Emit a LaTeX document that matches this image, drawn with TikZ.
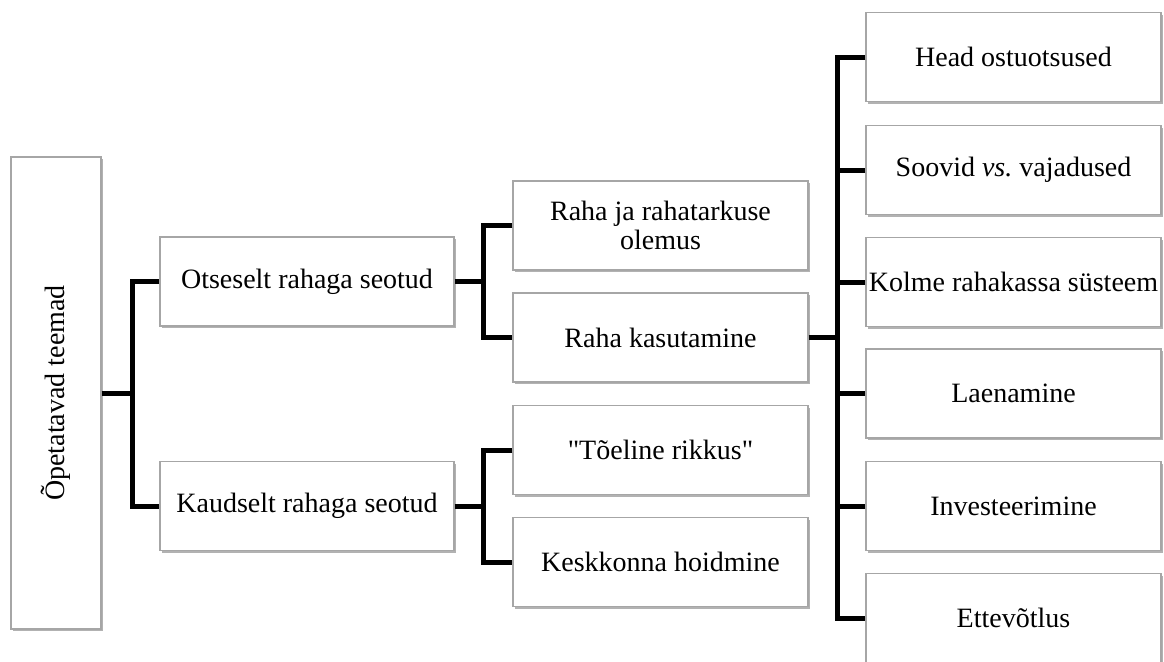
\documentclass[tikz,border=0pt]{standalone}
\usepackage{fontspec}
\setmainfont{Liberation Serif}
\usepackage{graphicx}
\usetikzlibrary{shadows}
\frenchspacing
\begin{document}
\begin{tikzpicture}[x=0.5pt,y=-0.5pt,
  box/.style={draw=gray!70,line width=0.6pt,fill=white,align=center,inner sep=1pt,
    minimum width=147.5pt,minimum height=44.5pt,font=\fontsize{14}{14.5}\selectfont,
    drop shadow={shadow xshift=1.2pt,shadow yshift=-1.2pt,opacity=0.3,fill=black}},
  link/.style={line width=2.5pt}]
\useasboundingbox (0,0) rectangle (1164,661);
% boxes
\node [box,minimum width=45pt,minimum height=236pt] (teemad) at (56,393) {\rotatebox{90}{Õpetatavad teemad}};
\node [box,minimum width=147pt] (otse) at (307,281.5) {Otseselt rahaga seotud};
\node [box,minimum width=147pt] (kaud) at (307,506) {Kaudselt rahaga seotud};
\node [box] (olemus) at (660.5,225.5) {Raha ja rahatarkuse\\olemus};
\node [box] (kasut) at (660.5,337.5) {Raha kasutamine};
\node [box] (rikkus) at (660.5,450) {\textquotedbl Tõeline rikkus\textquotedbl};
\node [box] (hoid) at (660.5,562) {Keskkonna hoidmine};
\node [box] (head) at (1013.5,57) {Head ostuotsused};
\node [box] (soovid) at (1013.5,170) {Soovid \textit{vs.} vajadused};
\node [box] (kolme) at (1013.5,282) {Kolme rahakassa süsteem};
\node [box] (laen) at (1013.5,393.5) {Laenamine};
\node [box] (invest) at (1013.5,506) {Investeerimine};
\node [box] (ettev) at (1013.5,618) {Ettevõtlus};
% connectors
\coordinate (tA) at (132,393);
\coordinate (tB) at (483,281.5);
\coordinate (tC) at (483,506);
\coordinate (tD) at (837,337.5);
\draw [link] (teemad.east) -- (tA);
\draw [link] (otse.west) -| (tA) |- (kaud.west);
\draw [link] (otse.east) -- (tB);
\draw [link] (olemus.west) -| (tB) |- (kasut.west);
\draw [link] (kaud.east) -- (tC);
\draw [link] (rikkus.west) -| (tC) |- (hoid.west);
\draw [link] (kasut.east) -- (tD);
\draw [link] (head.west) -| (tD) |- (ettev.west);
\draw [link] (soovid.west) -- (soovid.west -| tD);
\draw [link] (kolme.west) -- (kolme.west -| tD);
\draw [link] (laen.west) -- (laen.west -| tD);
\draw [link] (invest.west) -- (invest.west -| tD);
\end{tikzpicture}
\end{document}
